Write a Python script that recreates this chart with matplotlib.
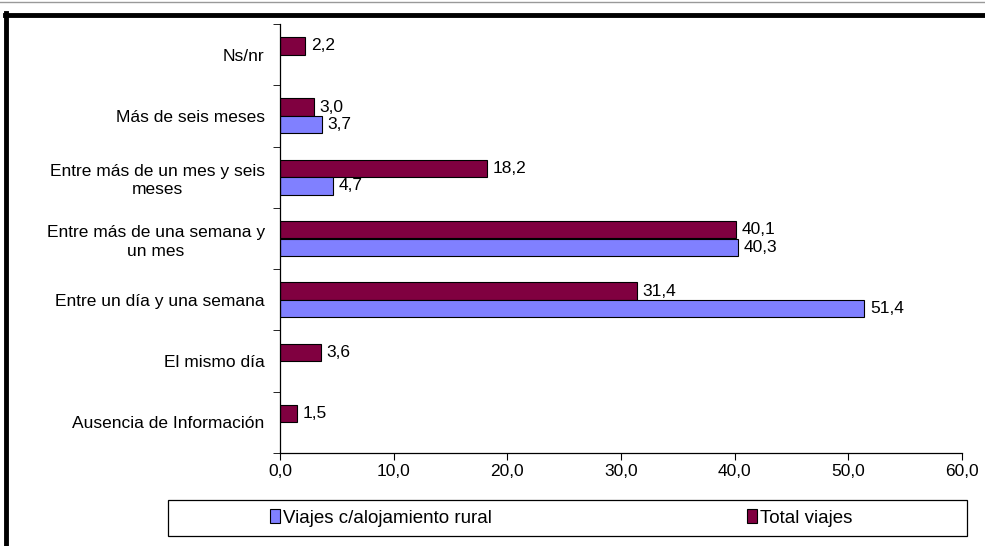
import matplotlib.pyplot as plt
from matplotlib.lines import Line2D
from matplotlib.patches import Rectangle, Patch
import numpy as np

plt.rcParams['font.family'] = ['Liberation Sans', 'DejaVu Sans']

categories = ["Ausencia de Información", "El mismo día", "Entre un día y una semana",
              "Entre más de una semana y\nun mes", "Entre más de un mes y seis\nmeses",
              "Más de seis meses", "Ns/nr"]
rural = [None, None, 51.4, 40.3, 4.7, 3.7, None]
total = [1.5, 3.6, 31.4, 40.1, 18.2, 3.0, 2.2]
xticks = [0, 10, 20, 30, 40, 50, 60]

c_rural = "#8080FF"
c_total = "#800040"

fig = plt.figure(figsize=(9.85, 5.46), dpi=100)
ax = fig.add_axes([280 / 985, 1 - 453 / 546, 682 / 985, 429 / 546])

y = np.arange(len(categories))
h = 0.285
off = 0.143
for i in range(len(categories)):
    if total[i] is not None:
        ax.barh(y[i] + off, total[i], height=h, color=c_total, edgecolor="black", linewidth=0.8)
        ax.text(total[i] + 0.5, y[i] + off, f"{total[i]:.1f}".replace(".", ","),
                va="center", ha="left", fontsize=12.5)
    if rural[i] is not None:
        ax.barh(y[i] - off, rural[i], height=h, color=c_rural, edgecolor="black", linewidth=0.8)
        ax.text(rural[i] + 0.5, y[i] - off, f"{rural[i]:.1f}".replace(".", ","),
                va="center", ha="left", fontsize=12.5)

ax.set_xlim(0, 60)
ax.set_ylim(-0.5, len(categories) - 0.5)
ax.set_xticks(xticks)
ax.set_xticklabels([f"{v:.1f}".replace(".", ",") for v in xticks], fontsize=12.5)
ax.set_yticks(y)
ax.set_yticklabels(categories, fontsize=12.5, multialignment="center", linespacing=1.3)
ax.set_yticks(np.arange(-0.5, len(categories), 1), minor=True)
ax.tick_params(axis="y", which="major", length=0, pad=11)
ax.tick_params(axis="y", which="minor", length=5, direction="out")
ax.tick_params(axis="x", length=5, direction="out", pad=3)
for s in ["top", "right"]:
    ax.spines[s].set_visible(False)
ax.spines["left"].set_linewidth(0.9)
ax.spines["bottom"].set_linewidth(0.9)

# legend box
fig.add_artist(Rectangle((168 / 985, 1 - 536 / 546), 799 / 985, 36 / 546,
                         transform=fig.transFigure, fill=False, edgecolor="black", linewidth=0.9))
handles = [Patch(facecolor=c_rural, edgecolor="black", linewidth=0.8, label="Viajes c/alojamiento rural"),
           Patch(facecolor=c_total, edgecolor="black", linewidth=0.8, label="Total viajes")]
fig.legend(handles=handles, loc="center", bbox_to_anchor=(561 / 985, 1 - 518 / 546), ncol=2,
           frameon=False, fontsize=13.5, handlelength=0.55, handleheight=0.7, handletextpad=0.15,
           columnspacing=13.6)

# outer black frame
fig.add_artist(Line2D([5 / 985, 1], [1 - 15 / 546, 1 - 15 / 546], transform=fig.transFigure,
                      color="black", linewidth=3.5))
fig.add_artist(Line2D([6 / 985, 6 / 985], [0, 1 - 13 / 546], transform=fig.transFigure,
                      color="black", linewidth=3.5))
fig.add_artist(Line2D([0, 1], [1 - 2 / 546, 1 - 2 / 546], transform=fig.transFigure,
                      color="#999999", linewidth=1))

fig.savefig("out.png", dpi=100)
